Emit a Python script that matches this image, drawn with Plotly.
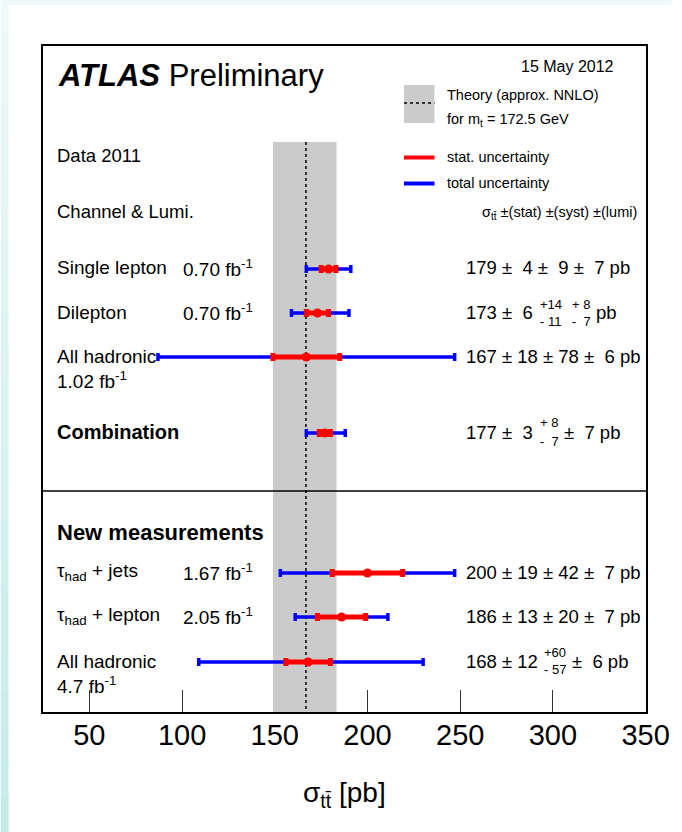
import plotly.graph_objects as go

# ---------------- data ----------------
channels = ["Single lepton", "Dilepton", "All hadronic 1.02", "Combination",
            "tau+jets", "tau+lepton", "All hadronic 4.7"]
row_pos = [223, 267, 311, 387, 527, 571, 616]       # vertical slot of each row (axis units, top-down)
xsec = [179, 173, 167, 177, 200, 186, 168]
stat_err = [4, 6, 18, 3, 19, 13, 12]
total_plus = [12, 17, 80, 11, 47, 25, 62]
total_minus = [12, 14, 80, 10, 47, 25, 59]

theory_central = 166.8
theory_low = 149.0
theory_high = 183.3

x_ticks = [50, 100, 150, 200, 250, 300, 350]
x_range = [25, 350.2]

row_labels = ["Single lepton", "Dilepton", "All hadronic", "<b>Combination</b>",
              "τ<sub>had</sub> + jets", "τ<sub>had</sub> + lepton", "All hadronic"]
lumi_labels = ["0.70 fb<sup>-1</sup>", "0.70 fb<sup>-1</sup>", "1.02 fb<sup>-1</sup>", "",
               "1.67 fb<sup>-1</sup>", "2.05 fb<sup>-1</sup>", "4.7 fb<sup>-1</sup>"]

SP = "\u00a0"  # non-breaking space used for padding

FONT = "Liberation Sans, Arial, Helvetica, sans-serif"

# ---------------- geometry ----------------
W, H = 682, 832
L, T, R, B = 43, 46, 656, 712
PW, PH = R - L, B - T


def px(x):
    return (x - L) / PW


def py(y):
    return 1 - (y - T) / PH


fig = go.Figure()

# theory band + central line
fig.add_trace(go.Scatter(
    x=[theory_low, theory_high, theory_high, theory_low, theory_low],
    y=[96, 96, PH, PH, 96], fill="toself", fillcolor="#cbcbcb",
    line=dict(width=0), mode="lines", hoverinfo="skip", showlegend=False))
fig.add_trace(go.Scatter(
    x=[theory_central, theory_central], y=[96, PH], mode="lines",
    line=dict(color="black", width=1.5, dash="dot"), hoverinfo="skip", showlegend=False))

# total uncertainty
fig.add_trace(go.Scatter(
    x=xsec, y=row_pos, mode="markers", marker=dict(size=1, color="rgba(0,0,255,0)"),
    error_x=dict(type="data", symmetric=False, array=total_plus, arrayminus=total_minus,
                 color="#0000ff", thickness=3.5, width=4),
    showlegend=False, hoverinfo="skip"))
# stat uncertainty
fig.add_trace(go.Scatter(
    x=xsec, y=row_pos, mode="markers", marker=dict(size=9, color="#ff0000"),
    error_x=dict(type="data", array=stat_err, color="#ff0000", thickness=5, width=4),
    showlegend=False, hoverinfo="skip"))

ann = []


def text(x, y, s, size=19, anchor="left", color="black"):
    ann.append(dict(x=px(x), y=py(y), xref="paper", yref="paper", text=s, showarrow=False,
                    xanchor=anchor, yanchor="middle",
                    font=dict(family=FONT, size=size, color=color)))


VS = 18.5   # value text size
SS = 13     # stacked small text size

# header
text(56, 76, "<b><i>ATLAS</i></b> Preliminary", size=31)
text(626, 66, "15 May 2012", size=16, anchor="right")
text(452, 95, "Theory (approx. NNLO)", size=14.5)
text(452, 120, "for m<sub>t</sub> = 172.5 GeV", size=14.5)
text(452, 157, "stat. uncertainty", size=14.5)
text(452, 183, "total uncertainty", size=14.5)
text(649, 213, "σ<sub>tt̄</sub> ±(stat) ±(syst) ±(lumi)", size=14.5, anchor="right")
text(55, 155, "Data 2011", size=18.5)
text(55, 211, "Channel &amp; Lumi.", size=18.5)
text(55, 532, "<b>New measurements</b>", size=22)

# row labels
for i, (lab, lumi) in enumerate(zip(row_labels, lumi_labels)):
    y = row_pos[i] + T
    text(55, y - 1, lab, size=20 if lab.startswith("<b>") else 19)
    if lumi:
        if lab == "All hadronic":
            text(55, y + 23, lumi, size=19)
        else:
            text(183, y - 1, lumi, size=19)

# values
vx = 471
text(vx, row_pos[0] + T - 1, f"179 ± {SP}4 ± {SP}9 ± {SP}7 pb", size=VS)
text(vx, row_pos[1] + T - 1, f"173 ± {SP}6", size=VS)
text(546, row_pos[1] + T - 9, "+14", size=SS)
text(546, row_pos[1] + T + 8, f"- 11", size=SS)
text(579, row_pos[1] + T - 9, "+ 8", size=SS)
text(579, row_pos[1] + T + 8, f"- {SP}7", size=SS)
text(603, row_pos[1] + T - 1, "pb", size=VS)
text(vx, row_pos[2] + T - 1, f"167 ± 18 ± 78 ± {SP}6 pb", size=VS)
text(vx, row_pos[3] + T - 1, f"177 ± {SP}3", size=VS)
text(546, row_pos[3] + T - 10, "+ 8", size=SS)
text(546, row_pos[3] + T + 8, f"- {SP}7", size=SS)
text(571, row_pos[3] + T - 1, f"± {SP}7 pb", size=VS)
text(vx, row_pos[4] + T - 1, f"200 ± 19 ± 42 ± {SP}7 pb", size=VS)
text(vx, row_pos[5] + T - 1, f"186 ± 13 ± 20 ± {SP}7 pb", size=VS)
text(vx, row_pos[6] + T - 1, "168 ± 12", size=VS)
text(550, row_pos[6] + T - 10, "+60", size=SS)
text(550, row_pos[6] + T + 7, "- 57", size=SS)
text(579, row_pos[6] + T - 1, f"± {SP}6 pb", size=VS)

# axis title
text(349, 795, "σ<sub>tt̄</sub> [pb]", size=28, anchor="center")

shapes = []
# background decoration (light cyan slide border)
shapes.append(dict(type="rect", xref="paper", yref="paper", x0=px(0), x1=px(W), y0=py(0), y1=py(5),
                   fillcolor="#eef9f9", line=dict(width=0), layer="below"))
nseg = 24
c0 = (238, 249, 249)
c1 = (198, 234, 236)
for k in range(nseg):
    f = k / (nseg - 1)
    c = tuple(int(round(a + (b - a) * f)) for a, b in zip(c0, c1))
    shapes.append(dict(type="rect", xref="paper", yref="paper", x0=px(0), x1=px(8),
                       y0=py(H * k / nseg), y1=py(H * (k + 1) / nseg + 1),
                       fillcolor="rgb(%d,%d,%d)" % c, line=dict(width=0), layer="below"))

# separator line
shapes.append(dict(type="line", xref="paper", yref="paper", x0=0, x1=1, y0=py(491), y1=py(491),
                   line=dict(color="black", width=1.5)))
# legend symbols
shapes.append(dict(type="rect", xref="paper", yref="paper", x0=px(410), x1=px(441), y0=py(85), y1=py(123),
                   fillcolor="#cbcbcb", line=dict(width=0)))
shapes.append(dict(type="line", xref="paper", yref="paper", x0=px(410), x1=px(441), y0=py(103), y1=py(103),
                   line=dict(color="black", width=1.5, dash="dot")))
shapes.append(dict(type="line", xref="paper", yref="paper", x0=px(410), x1=px(441), y0=py(157.5), y1=py(157.5),
                   line=dict(color="#ff0000", width=4)))
shapes.append(dict(type="line", xref="paper", yref="paper", x0=px(410), x1=px(441), y0=py(183.5), y1=py(183.5),
                   line=dict(color="#0000ff", width=4)))

fig.update_layout(
    width=W, height=H,
    margin=dict(l=L, r=W - R, t=T, b=H - B, pad=0),
    paper_bgcolor="white", plot_bgcolor="white",
    showlegend=False,
    annotations=ann, shapes=shapes,
    xaxis=dict(range=x_range, tickvals=x_ticks, ticks="inside", ticklen=22, tickwidth=1,
               tickcolor="#333333", showgrid=False, zeroline=False, showline=True, mirror=True,
               linecolor="black", linewidth=2, layer="below traces", ticklabeloverflow="allow",
               ticklabelstandoff=-4,
               tickfont=dict(family=FONT, size=29, color="black")),
    yaxis=dict(range=[PH, 0], showticklabels=False, ticks="", showgrid=False, zeroline=False,
               showline=True, mirror=True, linecolor="black", linewidth=2, layer="below traces"),
)

fig.write_html(
    "out.html",
    config={"displayModeBar": False},
    post_script=("document.documentElement.style.margin='0';document.body.style.margin='0';"
                 "document.documentElement.style.overflow='hidden';document.body.style.overflow='hidden';"),
)
